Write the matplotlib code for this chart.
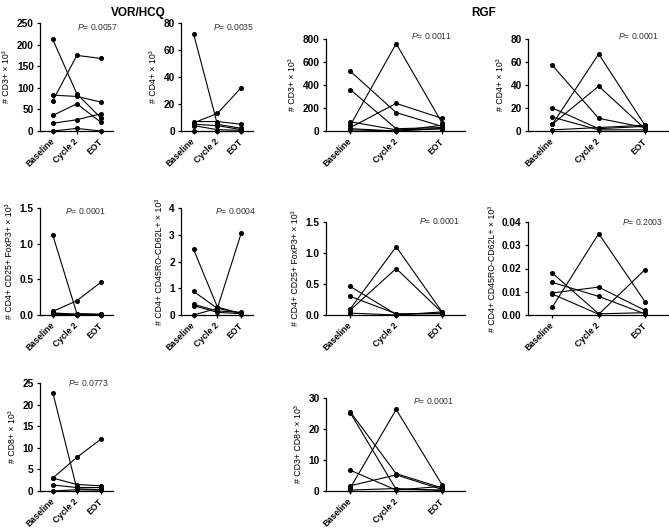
import matplotlib
matplotlib.use("Agg")
import matplotlib.pyplot as plt

plt.rcParams['font.family'] = ['Liberation Sans', 'DejaVu Sans']
plt.rcParams['mathtext.fontset'] = 'custom'
plt.rcParams['mathtext.it'] = 'Liberation Sans:italic'
plt.rcParams['mathtext.rm'] = 'Liberation Sans'

W, H = 669, 530
categories = ["Baseline", "Cycle 2", "EOT"]

# ---- data (patients: baseline, cycle 2, EOT) ----
vor_cd3 = [[212, 86, 30], [70, 175, 168], [83, 80, 67], [36, 63, 20], [18, 26, 40], [0, 6, 0]]
vor_cd4 = [[72, 5, 2], [6, 13, 32], [7, 7, 5], [5, 4, 1], [4, 1, 0.5], [0, 0, 0]]
rgf_cd3 = [[520, 160, 40], [360, 20, 30], [50, 760, 70], [30, 240, 110], [80, 10, 20], [20, 0, 50], [10, 0, 20]]
rgf_cd4 = [[57, 11, 3], [6, 67, 5], [6, 39, 2], [20, 2, 4], [12, 1, 1], [1, 3, 5]]
vor_treg = [[1.12, 0.02, 0.01], [0.05, 0.2, 0.46], [0.03, 0.01, 0.005], [0.02, 0.01, 0.01], [0.01, 0.005, 0.005]]
vor_cd45 = [[2.45, 0.3, 0.05], [0.88, 0.25, 0.07], [0.4, 0.15, 0.1], [0.35, 0.1, 0.05], [0.0, 0.25, 3.05]]
rgf_treg = [[0.46, 0.01, 0.03], [0.3, 0.02, 0.02], [0.1, 1.1, 0.05], [0.08, 0.75, 0.04], [0.03, 0.0, 0.05]]
rgf_cd45 = [[0.0035, 0.035, 0.0058], [0.0095, 0.012, 0.002], [0.014, 0.008, 0.0005],
            [0.018, 0.0005, 0.001], [0.009, 0.0003, 0.0195]]
vor_cd8 = [[22.8, 0.5, 0.3], [3.0, 7.8, 12.0], [3.0, 1.5, 1.2], [1.4, 0.8, 0.8], [0.0, 0.3, 0.2]]
rgf_cd8 = [[25.5, 5.6, 1.0], [25.2, 0.5, 0.3], [6.7, 0.3, 1.5], [1.0, 26.3, 2.0], [1.7, 5.2, 0.5], [0.3, 0.8, 0.2]]

ylabels = ["# CD3+ × 10³", "# CD4+ × 10³", "# CD3+ × 10³", "# CD4+ × 10³",
           "# CD4+ CD25+ FoxP3+ × 10³", "# CD4+ CD45RO-CD62L+ × 10³",
           "# CD4+ CD25+ FoxP3+ × 10³", "# CD4+ CD45RO-CD62L+ × 10³",
           "# CD8+ × 10³", "# CD3+ CD8+ × 10³"]
pvalues = ["0.0057", "0.0035", "0.0011", "0.0001", "0.0001", "0.0004",
           "0.0001", "0.2003", "0.0773", "0.0001"]
yticks = [[0, 50, 100, 150, 200, 250], [0, 20, 40, 60, 80], [0, 200, 400, 600, 800], [0, 20, 40, 60, 80],
          [0.0, 0.5, 1.0, 1.5], [0, 1, 2, 3, 4], [0.0, 0.5, 1.0, 1.5], [0.00, 0.01, 0.02, 0.03, 0.04],
          [0, 5, 10, 15, 20, 25], [0, 10, 20, 30]]
ytickfmt = ["{:.0f}", "{:.0f}", "{:.0f}", "{:.0f}", "{:.1f}", "{:.0f}", "{:.1f}", "{:.2f}", "{:.0f}", "{:.0f}"]
datasets = [vor_cd3, vor_cd4, rgf_cd3, rgf_cd4, vor_treg, vor_cd45, rgf_treg, rgf_cd45, vor_cd8, rgf_cd8]

# axes boxes in pixels: left, right, top, bottom
boxes = [(40, 113, 23, 131), (181, 253, 23, 131), (326, 465, 39, 131), (528, 668, 39, 131),
         (40, 113, 208, 315), (181, 253, 208, 315), (326, 465, 222, 315), (528, 668, 222, 315),
         (40, 113, 383, 491), (326, 465, 398, 491)]
# P-value text anchor (right x, center y) in pixels
ppos = [(118, 27), (254, 27), (452, 36), (659, 36), (106, 211), (256, 211),
        (460, 221), (663, 222), (109, 383), (454, 401)]

fig = plt.figure(figsize=(W / 100, H / 100), dpi=100)

for i in range(10):
    l, r, t, b = boxes[i]
    ax = fig.add_axes([l / W, 1 - b / H, (r - l) / W, (b - t) / H])
    for pat in datasets[i]:
        ax.plot(range(3), pat, color='black', lw=0.8, marker='o', ms=2.6,
                clip_on=False, zorder=3)
    ax.set_xlim(-0.53, 2.5)
    ax.set_ylim(yticks[i][0], yticks[i][-1])
    ax.set_yticks(yticks[i])
    ax.set_yticklabels([ytickfmt[i].format(v) for v in yticks[i]])
    ax.set_xticks(range(3))
    ax.set_xticklabels(categories, rotation=45, ha='right', va='center',
                       rotation_mode='anchor')
    for s in ['top', 'right']:
        ax.spines[s].set_visible(False)
    for s in ['left', 'bottom']:
        ax.spines[s].set_linewidth(0.9)
    ax.tick_params(axis='both', length=2.5, width=0.9)
    ax.tick_params(axis='y', labelsize=7.3, pad=2)
    ax.tick_params(axis='x', labelsize=6.3, pad=4)
    for lab in ax.get_xticklabels() + ax.get_yticklabels():
        lab.set_fontweight('bold')
    ax.set_ylabel(ylabels[i], fontsize=6.3, labelpad=4)
    px, py = ppos[i]
    fig.text(px / W, 1 - py / H, "$\\it{P}$= " + pvalues[i], fontsize=6.2,
             ha='right', va='center', color='#333333')

fig.text(138 / W, 1 - 13 / H, "VOR/HCQ", fontsize=8.5, fontweight='bold', ha='center', va='center')
fig.text(484 / W, 1 - 13 / H, "RGF", fontsize=8.5, fontweight='bold', ha='center', va='center')

fig.savefig("out.png", dpi=100)
